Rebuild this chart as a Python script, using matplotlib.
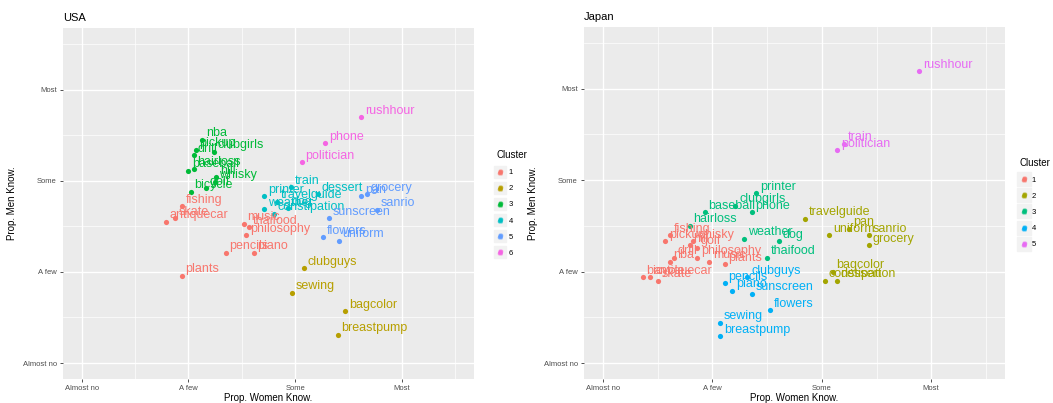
import matplotlib
matplotlib.use('Agg')
import matplotlib.pyplot as plt
from matplotlib.lines import Line2D

plt.rcParams['font.family'] = ['Liberation Sans', 'DejaVu Sans']

levels = ['Almost no', 'A few', 'Some', 'Most']

usa_words = ['nba', 'pickup', 'drill', 'clubgirls', 'hairloss', 'baseball', 'hill', 'whisky', 'golf', 'bicycle',
             'fishing', 'skate', 'antiquecar', 'music', 'thaifood', 'philosophy', 'pencils', 'piano', 'plants',
             'clubguys', 'sewing', 'bagcolor', 'breastpump',
             'train', 'printer', 'dessert', 'travelguide', 'dog', 'weather', 'constipation',
             'pan', 'grocery', 'sanrio', 'sunscreen', 'flowers', 'uniform',
             'rushhour', 'phone', 'politician']
usa_women = [1.13, 1.07, 1.05, 1.24, 1.05, 1.00, 1.26, 1.25, 1.16, 1.02,
             0.94, 0.87, 0.79, 1.52, 1.57, 1.54, 1.35, 1.61, 0.94,
             2.08, 1.97, 2.47, 2.40,
             1.96, 1.71, 2.21, 1.83, 1.93, 1.71, 1.80,
             2.62, 2.67, 2.77, 2.32, 2.26, 2.41,
             2.62, 2.28, 2.06]
usa_men = [2.45, 2.34, 2.28, 2.32, 2.13, 2.11, 2.04, 1.99, 1.92, 1.88,
           1.72, 1.59, 1.55, 1.53, 1.49, 1.40, 1.21, 1.21, 0.96,
           1.04, 0.77, 0.57, 0.31,
           1.93, 1.83, 1.85, 1.77, 1.70, 1.69, 1.64,
           1.83, 1.85, 1.68, 1.59, 1.38, 1.34,
           2.70, 2.41, 2.20]
usa_cluster = [3, 3, 3, 3, 3, 3, 3, 3, 3, 3,
               1, 1, 1, 1, 1, 1, 1, 1, 1,
               2, 2, 2, 2,
               4, 4, 4, 4, 4, 4, 4,
               5, 5, 5, 5, 5, 5,
               6, 6, 6]

jp_words = ['fishing', 'pickup', 'hill', 'whisky', 'golf', 'drill', 'nba', 'philosophy', 'music', 'plants',
            'bicycle', 'antiquecar', 'skate',
            'printer', 'clubgirls', 'phone', 'baseball', 'hairloss', 'weather', 'dog', 'thaifood',
            'travelguide', 'uniform', 'pan', 'sanrio', 'grocery', 'bagcolor', 'constipation', 'dessert',
            'clubguys', 'pencils', 'piano', 'sunscreen', 'flowers', 'sewing', 'breastpump',
            'rushhour', 'train', 'politician']
jp_women = [0.61, 0.57, 0.79, 0.82, 0.86, 0.65, 0.61, 0.86, 0.97, 1.11,
            0.36, 0.43, 0.50,
            1.40, 1.21, 1.36, 0.93, 0.79, 1.29, 1.61, 1.50,
            1.85, 2.07, 2.25, 2.43, 2.43, 2.10, 2.03, 2.14,
            1.32, 1.11, 1.18, 1.36, 1.53, 1.07, 1.07,
            2.89, 2.20, 2.14]
jp_men = [1.40, 1.33, 1.29, 1.33, 1.26, 1.15, 1.11, 1.15, 1.11, 1.08,
          0.94, 0.94, 0.90,
          1.86, 1.72, 1.65, 1.65, 1.50, 1.36, 1.33, 1.15,
          1.58, 1.40, 1.47, 1.40, 1.29, 1.00, 0.90, 0.90,
          0.94, 0.87, 0.79, 0.76, 0.58, 0.44, 0.29,
          3.19, 2.40, 2.33]
jp_cluster = [1, 1, 1, 1, 1, 1, 1, 1, 1, 1,
              1, 1, 1,
              3, 3, 3, 3, 3, 3, 3, 3,
              2, 2, 2, 2, 2, 2, 2, 2,
              4, 4, 4, 4, 4, 4, 4,
              5, 5, 5]

usa_palette = ['#F8766D', '#B79F00', '#00BA38', '#00BFC4', '#619CFF', '#F564E3']
jp_palette = ['#F8766D', '#A3A500', '#00BF7D', '#00B0F6', '#E76BF3']


def draw_panel(ax, title, words, women, men, cluster, palette, key_size, legend_x):
    ax.set_facecolor('#EBEBEB')
    for w, x, y, c in zip(words, women, men, cluster):
        col = palette[c - 1]
        ax.scatter(x, y, s=14, color=col, linewidths=0, zorder=3)
        ax.annotate(w, (x, y), xytext=(2.6, 4.6), textcoords='offset points',
                    color=col, fontsize=9, ha='left', va='center', zorder=4)

    ax.set_xlim(-0.175, 3.675)
    ax.set_ylim(-0.175, 3.675)
    ax.set_xticks([0, 1, 2, 3])
    ax.set_xticklabels(levels)
    ax.set_yticks([0, 1, 2, 3])
    ax.set_yticklabels(levels)
    ax.set_xticks([0.5, 1.5, 2.5, 3.5], minor=True)
    ax.set_yticks([0.5, 1.5, 2.5, 3.5], minor=True)
    ax.grid(which='major', color='white', linewidth=1.0)
    ax.grid(which='minor', color='white', linewidth=0.5)
    ax.set_axisbelow(True)
    for s in ax.spines.values():
        s.set_visible(False)
    ax.tick_params(which='major', length=2.5, width=0.6, color='#333333',
                   labelsize=5.5, labelcolor='#4D4D4D', pad=2)
    ax.tick_params(which='minor', length=0)
    ax.set_xlabel('Prop. Women Know.', fontsize=7, labelpad=0.5)
    ax.set_ylabel('Prop. Men Know.', fontsize=7, labelpad=4)
    ax.set_title(title, loc='left', fontsize=8, pad=5)

    handles = []
    for col in palette:
        handles.append((Line2D([], [], marker='s', ls='', color='#F2F2F2', markersize=key_size),
                        Line2D([], [], marker='o', ls='', color=col, markersize=3.2, markeredgewidth=0),
                        Line2D([], [], marker='$a$', ls='', color=col, markersize=3.5, alpha=0.6)))
    labels = [str(i + 1) for i in range(len(palette))]
    leg = ax.legend(handles, labels, loc='center left', bbox_to_anchor=(legend_x, 0.5),
                    frameon=False, fontsize=5.5, title='Cluster', title_fontsize=7,
                    handlelength=1.0, handletextpad=0.6, labelspacing=1.15, borderpad=0,
                    borderaxespad=0)
    leg._legend_box.align = 'left'


fig = plt.figure(figsize=(10.53, 4.03), dpi=100)
ax1 = fig.add_axes([63 / 1053, 24 / 403, 411 / 1053, 351 / 403])
ax2 = fig.add_axes([584 / 1053, 24 / 403, 421 / 1053, 352 / 403])

draw_panel(ax1, 'USA', usa_words, usa_women, usa_men, usa_cluster, usa_palette, 9, 1.055)
draw_panel(ax2, 'Japan', jp_words, jp_women, jp_men, jp_cluster, jp_palette, 10, 1.035)

fig.savefig('out.png', dpi=100)
